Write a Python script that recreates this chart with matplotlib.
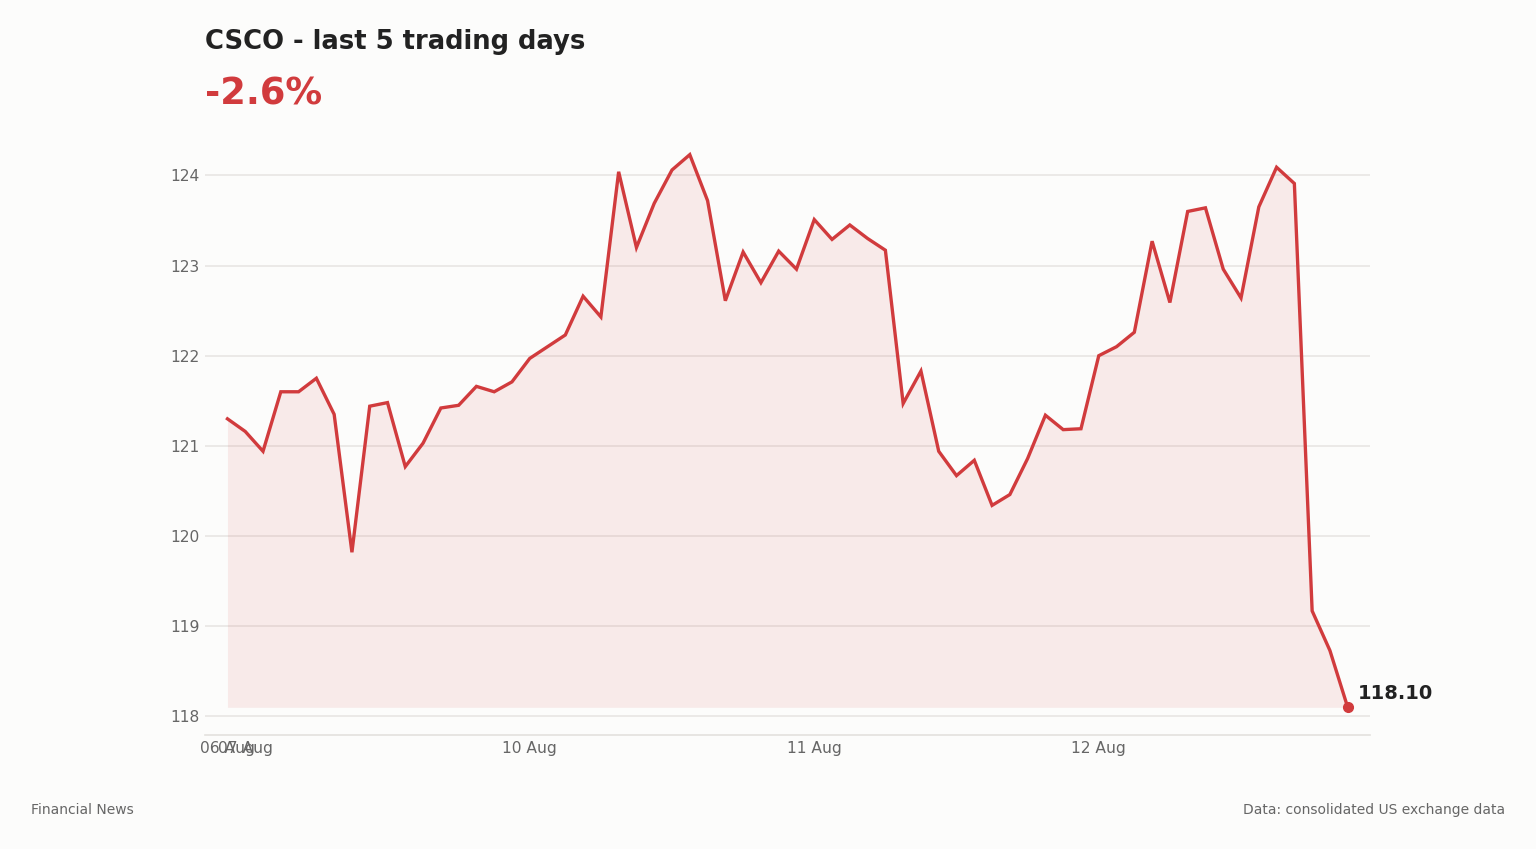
import numpy as np
import matplotlib
matplotlib.use("Agg")
import matplotlib.pyplot as plt

# DATA
ticker = "CSCO"
change_label = "-2.6%"
prices = [
    121.30, 121.16, 120.94, 121.60, 121.60, 121.75, 121.35, 119.82,
    121.44, 121.48, 120.77, 121.03, 121.42, 121.45, 121.66, 121.60,
    121.71, 121.97, 122.10, 122.23, 122.66, 122.43, 124.04, 123.20,
    123.69, 124.06, 124.23, 123.72, 122.61, 123.15, 122.81, 123.16,
    122.96, 123.51, 123.29, 123.45, 123.30, 123.17, 121.47, 121.83,
    120.94, 120.67, 120.84, 120.34, 120.46, 120.86, 121.34, 121.18,
    121.19, 122.00, 122.10, 122.26, 123.27, 122.59, 123.60, 123.64,
    122.96, 122.64, 123.65, 124.09, 123.91, 119.17, 118.73, 118.10,
]
tick_idx = [0, 1, 17, 33, 49]
tick_labels = ["06 Aug", "07 Aug", "10 Aug", "11 Aug", "12 Aug"]
y_ticks = [118, 119, 120, 121, 122, 123, 124]

red = "#d13b3d"
bg = "#fcfcfb"
grey_text = "#666666"

x = np.arange(len(prices))
y = np.array(prices)

fig = plt.figure(figsize=(15.36, 8.49), dpi=100, facecolor=bg)
ax = fig.add_axes([0.1335, 0.1343, 0.7585, 0.7161])
ax.set_facecolor(bg)

# fill + line
ax.fill_between(x, y, y.min(), color=red, alpha=0.09, linewidth=0)
ax.plot(x, y, color=red, linewidth=2.4, solid_joinstyle="miter")
ax.plot(x[-1], y[-1], "o", color=red, markersize=7)
ax.annotate(f"{y[-1]:.2f}", (x[-1], y[-1]), xytext=(7, 3),
            textcoords="offset points", fontsize=14, fontweight="bold",
            color="#222222", va="bottom", ha="left")

ax.margins(x=0.02, y=0.05)
ax.set_yticks(y_ticks)
ax.set_xticks(tick_idx)
ax.set_xticklabels(tick_labels)

# styling
ax.grid(axis="y", color="#e8e6e3", linewidth=1.2)
ax.set_axisbelow(True)
for s in ["left", "right", "top"]:
    ax.spines[s].set_visible(False)
ax.spines["bottom"].set_color("#e3e1de")
ax.spines["bottom"].set_linewidth(1.2)
ax.tick_params(axis="both", length=0, labelsize=11.2, colors=grey_text, pad=4)

# titles
fig.text(0.1335, 0.95, f"{ticker} - last 5 trading days", fontsize=18.6,
         fontweight="bold", color="#222222", ha="left", va="center")
fig.text(0.1335, 0.889, change_label, fontsize=26.5, fontweight="bold",
         color=red, ha="left", va="center")

# footer
fig.text(0.02, 0.046, "Financial News", fontsize=10, color=grey_text,
         ha="left", va="center")
fig.text(0.98, 0.046, "Data: consolidated US exchange data", fontsize=10,
         color=grey_text, ha="right", va="center")

fig.savefig("out.png", dpi=100, facecolor=bg)
